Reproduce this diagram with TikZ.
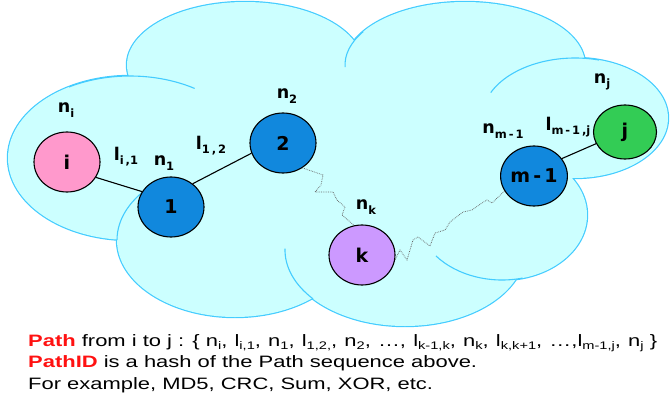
\documentclass[tikz,border=0pt]{standalone}
\usepackage{fontspec}
\setmainfont{DejaVu Sans}
\newfontfamily\captfont[FakeStretch=1.33]{Liberation Sans}
\newfontfamily\labfont{DejaVu Sans}
\usetikzlibrary{shapes.geometric}
\definecolor{cloudfill}{HTML}{CCFFFF}
\definecolor{cloudline}{HTML}{44CCFF}
\definecolor{nodeblue}{HTML}{1188DD}
\definecolor{nodepink}{HTML}{FF99CC}
\definecolor{nodegreen}{HTML}{33CC55}
\definecolor{nodepurple}{HTML}{CC99FF}
\definecolor{pathred}{HTML}{FF1111}
\newcommand\labsub[1]{\raisebox{-0.45ex}{\fontsize{11.5}{11.5}\selectfont #1}}
\newcommand\capsub[1]{\raisebox{-0.35ex}{\fontsize{11}{11}\selectfont #1}}
\newcommand\csep{,\hspace{1.1pt} }
\begin{document}
\begin{tikzpicture}[x=1pt,y=-1pt,
  netnode/.style={ellipse, draw=black, line width=1.1pt, minimum width=66pt, minimum height=60pt, inner sep=0pt, font=\labfont\bfseries\fontsize{19}{19}\selectfont},
  lab/.style={font=\labfont\bfseries\fontsize{17.5}{17.5}\selectfont, inner sep=0pt},
  link/.style={line width=1.1pt},
  wavy/.style={densely dotted, line width=0.75pt, black!60},
  cloudedge/.style={draw=cloudline, line width=2.4pt},
  cloudarc/.style={draw=cloudline, line width=1.1pt},
  captline/.style={anchor=base west, inner sep=0pt, font=\captfont\fontsize{16.5}{16.5}\selectfont}]
\useasboundingbox (0,0) rectangle (670,402);
% cloud: outer outline
\foreach \cx/\cy/\rx/\ry in {245/65/118/63, 465/65/120/63, 130/158/122/82, 575/118/93/60, 235/240/118/77, 405/250/120/76, 502/215/85/65}
  \draw[cloudedge] (\cx,\cy) ellipse [x radius=\rx, y radius=\ry];
\foreach \cx/\cy/\rx/\ry in {245/65/118/63, 465/65/120/63, 130/158/122/82, 575/118/93/60, 235/240/118/77, 405/250/120/76, 502/215/85/65, 360/150/200/100}
  \fill[cloudfill] (\cx,\cy) ellipse [x radius=\rx, y radius=\ry];
% inner arcs
\draw[cloudarc] (465,65) ++(178:120 and 63) arc [start angle=178, end angle=212, x radius=120, y radius=63];
\draw[cloudarc] (130,158) ++(240:122 and 82) arc [start angle=240, end angle=302, x radius=122, y radius=82];
\draw[cloudarc] (235,240) ++(180:118 and 77) arc [start angle=180, end angle=228, x radius=118, y radius=77];
\draw[cloudarc] (405,250) ++(140:120 and 76) arc [start angle=140, end angle=181, x radius=120, y radius=76];
\draw[cloudarc] (502,215) ++(76:85 and 65) arc [start angle=76, end angle=141, x radius=85, y radius=65];
\draw[cloudarc] (575,118) ++(205:93 and 60) arc [start angle=205, end angle=285, x radius=93, y radius=60];
% nodes
\node[netnode, fill=nodepink] (ni) at (67,162) {i};
\node[netnode, fill=nodeblue] (n1) at (171,207) {1};
\node[netnode, fill=nodeblue] (n2) at (283,143) {2};
\node[netnode, fill=nodepurple] (nk) at (362,255) {k};
\node[netnode, fill=nodeblue] (nm) at (534,176) {m\,-\,1};
\node[netnode, fill=nodegreen, minimum width=63pt, minimum height=54pt] (nj) at (625,132) {j};
% labels
\node[lab] (lni) at (66,110) {n\labsub{i}};
\node[lab] (li1) at (126,157) {l\labsub{i\,,1}};
\node[lab] (ln1) at (164,163) {n\labsub{1}};
\node[lab] (l12) at (211,146) {l\labsub{1\,,\,2}};
\node[lab] (ln2) at (287,96) {n\labsub{2}};
\node[lab] (lnk) at (366,207) {n\labsub{k}};
\node[lab] (lnm) at (503,131) {n\labsub{m\,-\,1}};
\node[lab] (lmj) at (568,127) {l\labsub{m\,-\,1\,,j}};
\node[lab] (lnj) at (602,82) {n\labsub{j}};
% connectors
\draw[link] (ni.-28) -- (n1.152);
\draw[link] (n1.47) -- (n2.198);
\draw[link] (nm.32) -- (nj.202);
\draw[wavy] (n2.-52) -- (323,175) -- (321,185) -- (315,192) -- (333,192) -- (337,200) -- (345,207) -- (342,215) -- (nk.105);
\draw[wavy] (nk.-8) -- (400,250) -- (407,260) -- (413,240) -- (418,237) -- (430,246) -- (435,233) -- (445,230) -- (450,222) -- (463,212) -- (472,210) -- (482,203) -- (487,200) -- (492,203) -- (nm.207);
% caption
\node[captline] (row1) at (28,346) {\textbf{\color{pathred}Path} from i to j : \{ n\capsub{i}\csep l\capsub{i,1}\csep n\capsub{1}\csep l\capsub{1,2,}\csep n\capsub{2}\csep \dots\csep l\capsub{k-1,k}\csep n\capsub{k}\csep l\capsub{k,k+1}\csep \dots,l\capsub{m-1,j}\csep n\capsub{j} \}};
\node[captline] (row2) at (28,367.5) {\textbf{\color{pathred}PathID} is a hash of the Path sequence above.};
\node[captline] (row3) at (28,389) {For example, MD5, CRC, Sum, XOR, etc.};
\end{tikzpicture}
\end{document}
